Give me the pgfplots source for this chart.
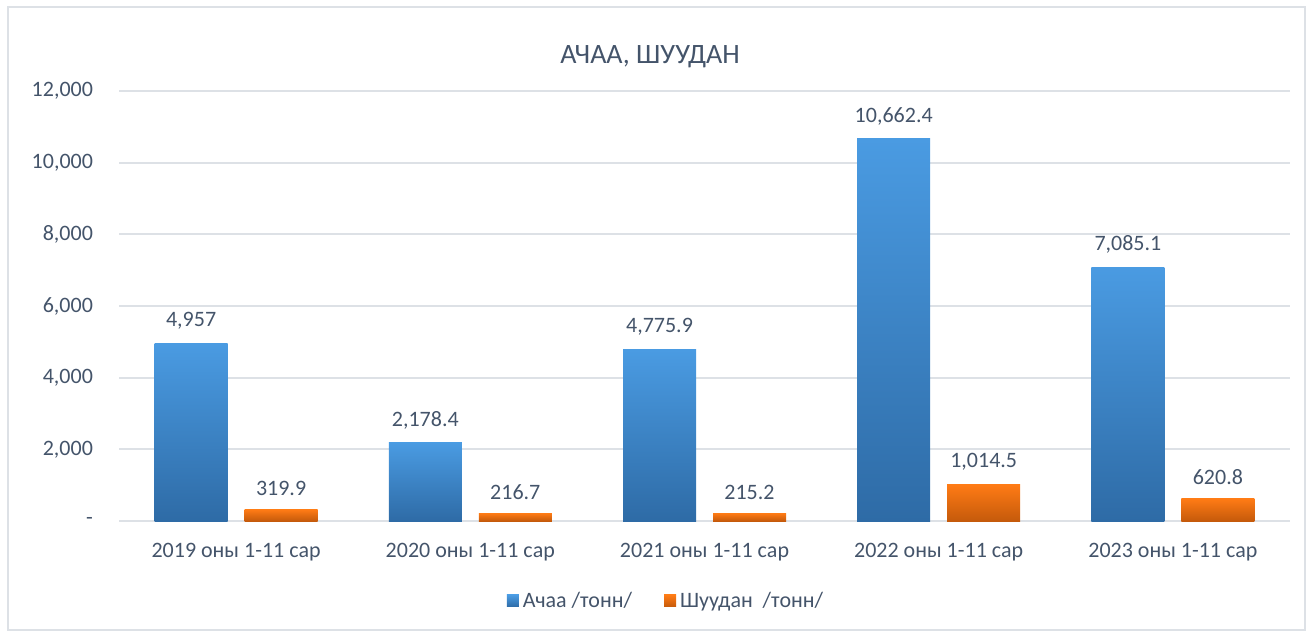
\documentclass[border=0pt]{standalone}
\usepackage{fontspec}
\setmainfont{Carlito}
\usepackage{pgfplots}
\pgfplotsset{compat=1.18}
\definecolor{txt}{HTML}{44546A}
\definecolor{gridc}{HTML}{DDE1E6}
\definecolor{bluetop}{HTML}{4A9BE2}
\definecolor{bluebot}{HTML}{2E6BA6}
\definecolor{orgtop}{HTML}{FF7B15}
\definecolor{orgbot}{HTML}{C55A0B}
\pgfplotsset{
  bluebar/.style={draw=none, top color=bluetop, bottom color=bluebot, bar shift=-22.5pt},
  orgbar/.style={draw=none, top color=orgtop, bottom color=orgbot, bar shift=22.5pt},
}
\begin{document}
\begin{tikzpicture}[x=1pt,y=1pt]
\path[use as bounding box] (0,0) rectangle (655,316);
\draw[gridc, line width=1pt] (4,1) rectangle (652.5,312.5);
\node[txt, font=\fontsize{14}{16}\selectfont] at (325,287.5) {АЧАА, ШУУДАН};
\begin{axis}[
  at={(59.5pt,55.5pt)}, anchor=south west,
  scale only axis, width=585.5pt, height=215pt,
  ybar, bar width=36.5pt,
  xmin=-0.5, xmax=4.5, ymin=0, ymax=12000,
  scaled y ticks=false,
  xtick={0,1,2,3,4},
  xticklabels={2019 оны 1-11 сар,2020 оны 1-11 сар,2021 оны 1-11 сар,2022 оны 1-11 сар,2023 оны 1-11 сар},
  ytick={0,2000,4000,6000,8000,10000,12000},
  yticklabels={-,{2,000},{4,000},{6,000},{8,000},{10,000},{12,000}},
  ymajorgrids, grid style={gridc, line width=0.9pt},
  axis line style={draw=none}, major tick length=0pt,
  tick label style={txt, font=\fontsize{11}{13}\selectfont},
  yticklabel style={anchor=east, xshift=-9.5pt},
  xticklabel style={anchor=north, yshift=-7.5pt},
  point meta=explicit symbolic,
  nodes near coords,
  every node near coord/.append style={txt, font=\fontsize{11}{13}\selectfont, anchor=south, yshift=3.5pt},
  legend columns=2,
  legend style={at={(0.468,-0.186)}, anchor=center, draw=none, fill=none,
    font=\fontsize{11}{13}\selectfont, text=txt,
    /tikz/every even column/.append style={column sep=14pt}},
  legend image code/.code={\fill[#1] (0pt,-3pt) rectangle (6pt,3pt);},
]
% Ачаа /тонн/
\addplot[bluebar] coordinates {(0,4957) [4,957]};
\addlegendentry{Ачаа /тонн/}
% Шуудан /тонн/
\addplot[orgbar] coordinates {(0,319.9) [319.9]};
\addlegendentry{Шуудан\ \ /тонн/}
\addplot[bluebar, forget plot] coordinates {(1,2178.4) [2,178.4]};
\addplot[bluebar, forget plot] coordinates {(2,4775.9) [4,775.9]};
\addplot[bluebar, forget plot] coordinates {(3,10662.4) [10,662.4]};
\addplot[bluebar, forget plot] coordinates {(4,7085.1) [7,085.1]};
\addplot[orgbar, forget plot] coordinates {(1,216.7) [216.7]};
\addplot[orgbar, forget plot] coordinates {(2,215.2) [215.2]};
\addplot[orgbar, forget plot] coordinates {(3,1014.5) [1,014.5]};
\addplot[orgbar, forget plot] coordinates {(4,620.8) [620.8]};
\end{axis}
\end{tikzpicture}
\end{document}
